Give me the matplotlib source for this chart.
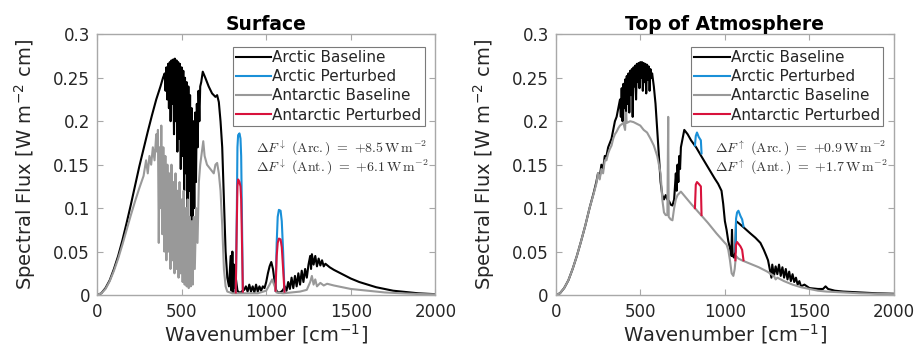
import numpy as np
import matplotlib
matplotlib.use('Agg')
import matplotlib.pyplot as plt

plt.rcParams['font.family'] = ['DejaVu Sans']
plt.rcParams['mathtext.fontset'] = 'cm'

# ---------------- Surface: Arctic baseline ----------------
sfc_arc_wn = [0, 25, 50, 75, 100, 125, 150, 175, 200, 225, 250, 275, 300, 325, 350, 375, 390,
              400, 405, 410, 415, 420, 425, 430, 435, 440, 445, 450, 455, 460, 465, 470, 475, 480, 485,
              490, 495, 500, 505, 510, 515, 520, 525, 530, 535, 540, 545, 550, 555, 560, 565, 570, 575,
              580, 585, 590, 595, 600, 605, 610, 616, 625, 640, 660, 680, 700, 710, 720, 730,
              740, 750, 760, 770, 780, 790, 795, 800, 805, 810, 815, 820, 830, 840, 850, 860, 870, 880,
              890, 900, 910, 920, 930, 940, 950, 960, 970, 980, 990, 1000, 1010, 1020, 1030, 1040, 1050,
              1060, 1070, 1080, 1090, 1100, 1110, 1120, 1130, 1140, 1150, 1160, 1170, 1180, 1190, 1200,
              1210, 1220, 1230, 1240, 1250, 1260, 1265, 1270, 1280, 1290, 1300, 1310, 1320, 1330, 1340,
              1350, 1375, 1400, 1450, 1500, 1550, 1600, 1650, 1700, 1750, 1800, 1850, 1900, 1950, 2000]
sfc_arc_flux = [0, 0.002, 0.008, 0.017, 0.03, 0.045, 0.063, 0.083, 0.104, 0.126, 0.148, 0.168, 0.188,
                0.207, 0.225, 0.24, 0.25,
                0.255, 0.235, 0.262, 0.225, 0.266, 0.215, 0.268, 0.2, 0.27, 0.22, 0.271, 0.185, 0.272,
                0.2, 0.27, 0.165, 0.268, 0.18, 0.266, 0.145, 0.262, 0.16, 0.258, 0.12, 0.25, 0.14, 0.245,
                0.1, 0.24, 0.12, 0.23, 0.085, 0.215, 0.075, 0.2, 0.1, 0.21, 0.13, 0.22, 0.17, 0.235, 0.2,
                0.24, 0.245, 0.257, 0.25, 0.24, 0.232, 0.228, 0.23, 0.222, 0.2, 0.17, 0.11, 0.05, 0.02,
                0.01, 0.045, 0.005, 0.05, 0.003, 0.035, 0.008, 0.02, 0.005, 0.003, 0.003, 0.005, 0.006,
                0.01, 0.004, 0.012, 0.004, 0.01, 0.003, 0.012, 0.004, 0.01, 0.005, 0.01, 0.008, 0.015,
                0.025, 0.033, 0.038, 0.03, 0.015, 0.005, 0.003, 0.003, 0.004, 0.006, 0.01, 0.005, 0.015,
                0.007, 0.02, 0.008, 0.022, 0.01, 0.025, 0.012, 0.028, 0.015, 0.03, 0.02, 0.035, 0.045,
                0.03, 0.047, 0.035, 0.045, 0.033, 0.042, 0.034, 0.04, 0.033, 0.036, 0.032, 0.029, 0.024,
                0.019, 0.015, 0.012, 0.009, 0.007, 0.005, 0.004, 0.003, 0.002, 0.0015, 0.001]

# ---------------- Surface: Antarctic baseline ----------------
sfc_ant_wn = [0, 25, 50, 75, 100, 125, 150, 175, 200, 225, 250, 275, 290, 300, 310, 320, 330, 340, 350,
              355, 360, 365, 370, 375, 380, 386, 392, 398, 404, 410, 416, 422, 428, 434, 440, 446, 452,
              458, 464, 470, 476, 482, 488, 494, 500, 506, 512, 518, 524, 530, 536, 542, 548, 554, 560,
              566, 572, 578, 586, 594, 602, 610, 620, 628, 636, 650, 670, 690, 700, 710, 720, 730, 740,
              750, 760, 770, 800, 850, 900, 950, 1000, 1020, 1035, 1050, 1060, 1100, 1150, 1200, 1240,
              1260, 1270, 1280, 1290, 1300, 1320, 1340, 1360, 1400, 1450, 1500, 1600, 1700, 1800, 1900, 2000]
sfc_ant_flux = [0, 0.002, 0.007, 0.016, 0.028, 0.042, 0.058, 0.075, 0.092, 0.108, 0.123, 0.137, 0.155,
                0.14, 0.16, 0.15, 0.17, 0.155, 0.185, 0.165, 0.19, 0.06, 0.17, 0.1, 0.195, 0.07, 0.17,
                0.05, 0.16, 0.04, 0.15, 0.05, 0.14, 0.03, 0.15, 0.04, 0.13, 0.025, 0.14, 0.03, 0.12, 0.02,
                0.13, 0.025, 0.11, 0.015, 0.12, 0.012, 0.1, 0.01, 0.11, 0.008, 0.09, 0.01, 0.085, 0.012,
                0.09, 0.03, 0.1, 0.06, 0.13, 0.15, 0.165, 0.177, 0.16, 0.15, 0.145, 0.14, 0.15, 0.152,
                0.14, 0.12, 0.08, 0.03, 0.01, 0.004, 0.002, 0.002, 0.002, 0.002, 0.005, 0.012, 0.018,
                0.01, 0.003, 0.002, 0.003, 0.004, 0.006, 0.015, 0.022, 0.012, 0.018, 0.01, 0.014, 0.011,
                0.013, 0.011, 0.009, 0.007, 0.005, 0.003, 0.002, 0.0012, 0.0008]

# ---------------- Surface: perturbed (only where they differ from baseline) ----------------
sfc_win1_wn = [820, 826, 830, 834, 842, 848, 852, 856, 862]
sfc_arc_pert1 = [0.003, 0.09, 0.17, 0.184, 0.186, 0.18, 0.16, 0.1, 0.004]
sfc_ant_pert1 = [0.003, 0.08, 0.125, 0.133, 0.13, 0.125, 0.11, 0.07, 0.004]
sfc_win2_wn = [1055, 1062, 1068, 1075, 1085, 1092, 1100, 1108]
sfc_arc_pert2 = [0.005, 0.06, 0.09, 0.098, 0.097, 0.085, 0.05, 0.004]
sfc_ant_pert2 = [0.005, 0.045, 0.06, 0.065, 0.064, 0.055, 0.03, 0.004]

# ---------------- TOA: Arctic baseline ----------------
toa_arc_wn = [0, 25, 50, 75, 100, 125, 150, 175, 200, 225, 240, 250, 260, 270, 280, 290, 300, 310, 320,
              330, 340, 350, 360, 370, 380, 385, 390, 395, 400, 405, 410, 415, 420, 425, 430, 435, 440,
              445, 450, 455, 460, 465, 470, 475, 480, 485, 490, 495, 500, 505, 510, 515, 520, 525, 530,
              535, 540, 545, 550, 555, 560, 565, 570,
              580, 590, 600, 610, 620, 630, 640, 650, 660, 670, 680, 690, 700, 705, 710, 715, 720,
              725, 730, 735, 740, 750, 760, 780, 800, 830, 860, 900, 940, 960, 980, 990, 1000, 1010,
              1020, 1030, 1038, 1042, 1046, 1055, 1062, 1066, 1080, 1110, 1150, 1180, 1210, 1230, 1245,
              1255, 1265, 1275, 1280, 1290, 1300, 1310, 1320, 1330, 1340, 1350, 1360, 1370, 1380, 1390,
              1400, 1410, 1420, 1430, 1440, 1450, 1470, 1500, 1550, 1580, 1595, 1610, 1650, 1700, 1800,
              1900, 2000]
toa_arc_flux = [0, 0.002, 0.008, 0.017, 0.03, 0.045, 0.062, 0.08, 0.1, 0.118, 0.13, 0.14, 0.135, 0.15,
                0.145, 0.16, 0.16, 0.17, 0.175, 0.18, 0.19, 0.2, 0.205, 0.215,
                0.225, 0.205, 0.238, 0.2, 0.243, 0.215, 0.248, 0.198, 0.252, 0.22, 0.255, 0.21, 0.258,
                0.23, 0.26, 0.205, 0.262, 0.24, 0.264, 0.225, 0.266, 0.245, 0.267, 0.238, 0.268, 0.25,
                0.268, 0.235, 0.267, 0.245, 0.266, 0.232, 0.265, 0.248, 0.263, 0.235, 0.26, 0.25, 0.255,
                0.24, 0.22, 0.19, 0.16, 0.13, 0.115, 0.11, 0.115, 0.11, 0.108, 0.104, 0.103,
                0.11, 0.125, 0.14, 0.12, 0.15, 0.13, 0.16, 0.145, 0.17, 0.18, 0.19, 0.185, 0.178, 0.17,
                0.16, 0.147, 0.134, 0.128, 0.12, 0.105, 0.085, 0.075, 0.062, 0.054, 0.045, 0.075, 0.045,
                0.043, 0.05, 0.085, 0.083, 0.078, 0.071, 0.066, 0.06, 0.052, 0.045, 0.04, 0.03, 0.02,
                0.035, 0.022, 0.033, 0.024, 0.035, 0.022, 0.032, 0.02, 0.03, 0.018, 0.027, 0.016, 0.024,
                0.015, 0.02, 0.012, 0.016, 0.01, 0.012, 0.008, 0.007, 0.007, 0.01, 0.007, 0.005, 0.004,
                0.003, 0.002, 0.0015]

# ---------------- TOA: Antarctic baseline ----------------
toa_ant_wn = [0, 25, 50, 75, 100, 125, 150, 175, 200, 225, 240, 250, 260, 270, 280, 290, 300, 310, 320,
              330, 340, 350, 360, 370, 380, 400, 410, 415, 420, 440, 460, 480, 500, 520, 540, 560, 580,
              600, 610, 620, 630, 640, 650, 660, 665, 668, 680, 690, 700, 710, 720, 740, 800, 850, 900,
              950, 1000, 1010, 1020, 1030, 1040, 1050, 1058, 1065, 1080, 1100, 1150, 1200, 1250, 1290,
              1300, 1310, 1350, 1400, 1450, 1500, 1550, 1600, 1700, 1800, 1900, 2000]
toa_ant_flux = [0, 0.002, 0.008, 0.017, 0.03, 0.045, 0.062, 0.08, 0.1, 0.117, 0.128, 0.14, 0.133, 0.145,
                0.14, 0.155, 0.155, 0.163, 0.168, 0.172, 0.18, 0.185, 0.188, 0.192, 0.195, 0.198, 0.19,
                0.21, 0.198, 0.2, 0.199, 0.197, 0.195, 0.19, 0.187, 0.18, 0.172, 0.16, 0.15, 0.14, 0.11,
                0.095, 0.092, 0.092, 0.205, 0.09, 0.087, 0.086, 0.1, 0.11, 0.115, 0.119, 0.105, 0.094,
                0.083, 0.071, 0.06, 0.058, 0.052, 0.04, 0.025, 0.022, 0.03, 0.045, 0.042, 0.04, 0.036,
                0.032, 0.027, 0.022, 0.018, 0.02, 0.016, 0.012, 0.009, 0.007, 0.005, 0.004, 0.003, 0.002,
                0.0015, 0.001]

# ---------------- TOA: perturbed ----------------
toa_win1_wn = [823, 828, 835, 845, 858, 862]
toa_arc_pert1 = [0.172, 0.183, 0.187, 0.182, 0.178, 0.163]
toa_ant_pert1 = [0.1, 0.127, 0.13, 0.128, 0.125, 0.092]
toa_win2_wn = [1062, 1066, 1072, 1080, 1092, 1102, 1110]
toa_arc_pert2 = [0.05, 0.088, 0.095, 0.097, 0.091, 0.087, 0.079]
toa_ant_pert2 = [0.04, 0.058, 0.061, 0.059, 0.056, 0.052, 0.04]

c_black = 'black'
c_blue = '#1a90d8'
c_gray = '#999999'
c_red = '#d8123c'
spine_c = '#a8a8a8'
txt_c = '#262626'

panels = [
    ('Surface', sfc_arc_wn, sfc_arc_flux, sfc_ant_wn, sfc_ant_flux,
     [(sfc_win1_wn, sfc_arc_pert1, sfc_ant_pert1), (sfc_win2_wn, sfc_arc_pert2, sfc_ant_pert2)],
     r'$\Delta F^{\downarrow}\ \mathrm{(Arc.)}\ =\ {+}8.5\,\mathrm{W\,m^{-2}}$' + '\n' +
     r'$\Delta F^{\downarrow}\ \mathrm{(Ant.)}\ =\ {+}6.1\,\mathrm{W\,m^{-2}}$'),
    ('Top of Atmosphere', toa_arc_wn, toa_arc_flux, toa_ant_wn, toa_ant_flux,
     [(toa_win1_wn, toa_arc_pert1, toa_ant_pert1), (toa_win2_wn, toa_arc_pert2, toa_ant_pert2)],
     r'$\Delta F^{\uparrow}\ \mathrm{(Arc.)}\ =\ {+}0.9\,\mathrm{W\,m^{-2}}$' + '\n' +
     r'$\Delta F^{\uparrow}\ \mathrm{(Ant.)}\ =\ {+}1.7\,\mathrm{W\,m^{-2}}$'),
]

fig = plt.figure(figsize=(9.17, 3.5), dpi=100)
lefts = [0.1058, 0.606]

for (title, awn, af, nwn, nf, wins, note), left in zip(panels, lefts):
    ax = fig.add_axes([left, 0.157, 0.369, 0.745])
    la, = ax.plot(awn, af, color=c_black, lw=1.5)
    blues = [ax.plot(w, pa, color=c_blue, lw=1.5)[0] for w, pa, pn in wins]
    lg, = ax.plot(nwn, nf, color=c_gray, lw=1.5)
    reds = [ax.plot(w, pn, color=c_red, lw=1.5)[0] for w, pa, pn in wins]

    ax.set_xlim(0, 2000)
    ax.set_ylim(0, 0.3)
    ax.set_xticks([0, 500, 1000, 1500, 2000])
    ax.set_yticks([0, 0.05, 0.1, 0.15, 0.2, 0.25, 0.3])
    ax.set_yticklabels(['0', '0.05', '0.1', '0.15', '0.2', '0.25', '0.3'])
    ax.tick_params(direction='in', top=True, right=True, length=4, width=0.8,
                   color=spine_c, labelcolor=txt_c, labelsize=12)
    ax.tick_params(axis='y', pad=5)
    ax.tick_params(axis='x', pad=6)
    for s in ax.spines.values():
        s.set_color(spine_c)
        s.set_linewidth(1.0)
    ax.set_title(title, fontsize=13.5, fontweight='bold', color='black', pad=3)
    ax.set_xlabel('Wavenumber [cm$^{\\mathregular{-1}}$]', fontsize=14, color=txt_c, labelpad=1)
    ax.set_ylabel('Spectral Flux [W m$^{\\mathregular{-2}}$ cm]', fontsize=14, color=txt_c, labelpad=11)

    leg = ax.legend([la, blues[0], lg, reds[0]],
                    ['Arctic Baseline', 'Arctic Perturbed', 'Antarctic Baseline', 'Antarctic Perturbed'],
                    loc='upper right', bbox_to_anchor=(0.968, 0.951),
                    borderaxespad=0, fontsize=11, frameon=True, fancybox=False, framealpha=1,
                    edgecolor='#7a7a7a', handlelength=2.3, handletextpad=0.1, labelspacing=0.27,
                    borderpad=0.2)
    leg.get_frame().set_linewidth(0.8)
    for t in leg.get_texts():
        t.set_color(txt_c)

    ax.text(940, 0.1575, note, fontsize=10, color='#333333', va='center', ha='left',
            linespacing=1.0)

fig.savefig('out.png', dpi=100, facecolor='white')
